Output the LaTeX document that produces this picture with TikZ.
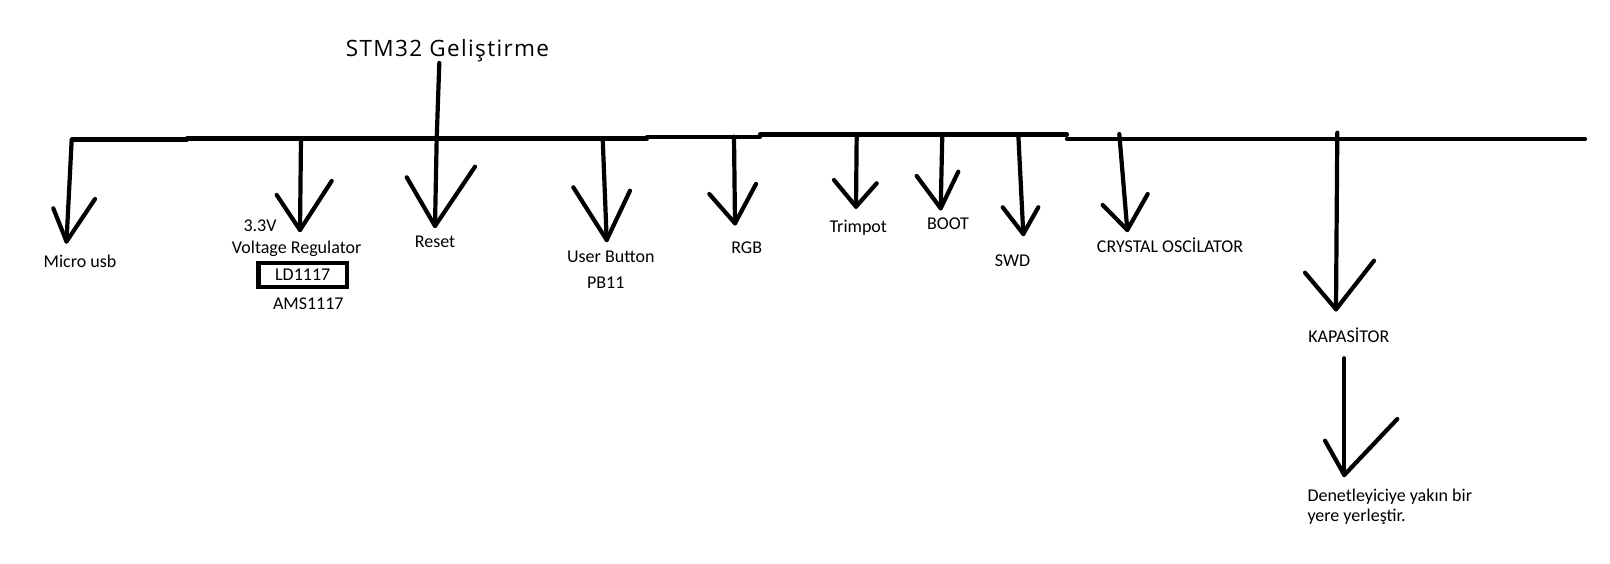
\documentclass[tikz,border=0pt]{standalone}
\usepackage{fontspec}
\setmainfont{Carlito}
\newfontfamily\titlefont[LetterSpace=6]{Open Sans}
\tikzset{
	pen/.style={line width=4.2pt, line cap=round, line join=round},
	lbl/.style={font=\fontsize{18}{21}\selectfont, inner sep=0pt, anchor=base},
}
\begin{document}
\begin{tikzpicture}[x=1pt, y=-1pt]

			\useasboundingbox (0,0) rectangle (1610,564);
			\fill[white] (0,0) rectangle (1610,564);

			\node[anchor=base, inner sep=0pt, font=\titlefont\fontsize{22.5}{27}\selectfont] (title) at (447.5,56.7) {STM32 Geliştirme};

			\draw[pen] (72,139.5) -- (187,139.5);
			\draw[pen] (187,138.5) -- (647,138.5);
			\draw[pen] (647,136.7) -- (760,136.7);
			\draw[pen] (760,134.5) -- (1067,134.5);
			\draw[pen] (1067,139) -- (1585,139);

			\foreach \nm/\ax/\ay/\bx/\by/\lx/\ly/\rx/\ry in {
				usb/71.7/139.5/66.5/241.5/53.3/208.3/95/199,
				vreg/301/138.5/300/230/276.7/195/331.7/181,
				reset/436.7/138.5/435/226/406.7/177.3/475/166.7,
				ubtn/602.7/138.5/606.7/240/573.3/187.3/630/190.7,
				rgb/734/136.7/735/223.3/709.3/194/756/184,
				trim/856.7/134.5/856/206.7/834/180/876.7/183.3,
				boot/942.3/134.5/940.7/208.3/916.7/176/958.3/171.7,
				swd/1018.3/134.5/1023.3/234/1002.7/207.3/1038.3/207.3,
				xtal/1119.3/134/1127.3/230/1102.7/205/1147.7/194,
				kap/1337.3/132.7/1336/309.3/1305/272.7/1374/260.7,
				place/1344.3/358.3/1344.3/475/1325/440.7/1397.3/419}
			{
				\coordinate (tap-\nm) at (\ax,\ay);
				\coordinate (tip-\nm) at (\bx,\by);
				\draw[pen] (tap-\nm) -- (tip-\nm);
				\draw[pen] (\lx,\ly) -- (tip-\nm) -- (\rx,\ry);
			}

			\coordinate (stem) at (439.3,63);
			\draw[pen] (stem) -- (tap-reset);

			\node[lbl] (usb) at (80,268) {Micro usb};
			\node[lbl] (v33) at (260,231.7) {3.3V};
			\node[lbl] (vreg) at (296.7,253.3) {Voltage Regulator};
			\node[draw, line width=4.5pt, minimum width=88.5pt, minimum height=24pt, inner sep=0pt, font=\fontsize{18}{21}\selectfont] (ld) at (302.7,275) {LD1117};
			\node[lbl] (ams) at (308.3,309.3) {AMS1117};
			\node[lbl] (reset) at (435,247.7) {Reset};
			\node[lbl] (ubtn) at (610.8,262.7) {User Button};
			\node[lbl] (pb) at (605.8,289) {PB11};
			\node[lbl] (rgb) at (746.7,254) {RGB};
			\node[lbl] (trim) at (858.3,232.3) {Trimpot};
			\node[lbl] (boot) at (948,229.3) {BOOT};
			\node[lbl] (swd) at (1012.5,266.7) {SWD};
			\node[lbl] (xtal) at (1170,252.7) {CRYSTAL OSCİLATOR};
			\node[lbl] (kap) at (1348.8,342) {KAPASİTOR};
			\node[lbl, anchor=base west] (place) at (1307.3,501) {Denetleyiciye yakın bir};
			\node[lbl, anchor=base west] (place2) at (1307.3,521.7) {yere yerleştir.};
		\end{tikzpicture}
\end{document}
